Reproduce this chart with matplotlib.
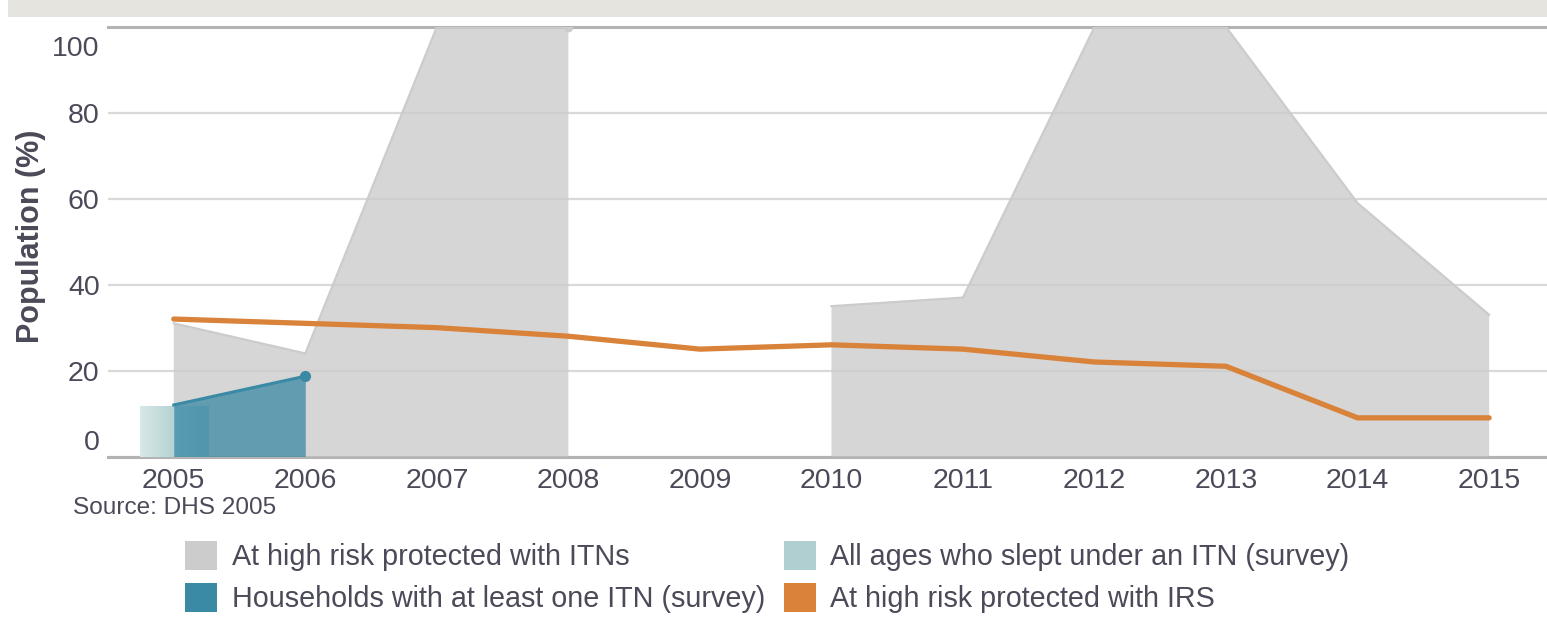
import matplotlib
matplotlib.use("Agg")
import matplotlib.pyplot as plt
import matplotlib.transforms as mtransforms
from matplotlib.colors import LinearSegmentedColormap
from matplotlib.patches import Patch, Rectangle
import numpy as np

# data
years = [2005, 2006, 2007, 2008, 2009, 2010, 2011, 2012, 2013, 2014, 2015]
itn_high_risk = [31, 24, 100, 100, np.nan, 35, 37, 100, 100, 59, 33]
irs_high_risk = [32, 31, 30, 28, 25, 26, 25, 22, 21, 9, 9]
survey_years = [2005, 2006]
households_itn = [12, 18.7]
all_ages_years = [2005]
all_ages_itn = [11.7]

y_ticks = [0, 20, 40, 60, 80, 100]
labels = ["At high risk protected with ITNs",
          "Households with at least one ITN (survey)",
          "All ages who slept under an ITN (survey)",
          "At high risk protected with IRS"]

text_col = "#4a4a58"
grey = "#cccccc"
teal = "#3a89a5"
light_teal = "#b0cfd0"
orange = "#d9823a"

plt.rcParams["font.family"] = ["Liberation Sans", "DejaVu Sans"]

W, H = 1547, 621
fig = plt.figure(figsize=(W / 100, H / 100), dpi=100)
ax = fig.add_axes([108 / W, 1 - 456.5 / H, 1 - 108 / W, (456.5 - 27) / H])

# title band (cut off at the top of the picture)
fig.add_artist(Rectangle((8 / W, 1 - 17 / H), 1, 17 / H, transform=fig.transFigure,
                         facecolor="#e5e4df", edgecolor="none"))

itn = np.array(itn_high_risk, dtype=float)
valid = ~np.isnan(itn)

# grey area: at high risk protected with ITNs
ax.fill_between(years, np.nan_to_num(itn), 0, where=valid, color=grey, alpha=0.8,
                linewidth=0, zorder=1)
ax.plot(years, itn, color=grey, lw=1.6, zorder=1.2)
ax.plot(years[3], itn[3], "o", color=grey, ms=6, zorder=1.2)

# light teal survey bar with a horizontal gradient
bar = ax.bar(all_ages_years, all_ages_itn, width=0.52, facecolor="none",
             edgecolor="none", zorder=2)[0]
x0, y0 = bar.get_xy()
grad = np.linspace(0, 1, 256).reshape(1, -1)
cmap = LinearSegmentedColormap.from_list("g", ["#d8e8e8", "#8fbcc0"])
im = ax.imshow(grad, extent=[x0, x0 + bar.get_width(), y0, y0 + bar.get_height()],
               aspect="auto", cmap=cmap, zorder=2)
im.set_clip_path(bar)

# households with at least one ITN
ax.fill_between(survey_years, households_itn, 0, color=teal, alpha=0.75,
                linewidth=0, zorder=3)
ax.plot(survey_years, households_itn, color=teal, lw=2.2, zorder=4)
ax.plot(survey_years[-1], households_itn[-1], "o", color=teal, ms=7, zorder=4)

# IRS line
ax.plot(years, irs_high_risk, color=orange, lw=3.8, solid_capstyle="round",
        solid_joinstyle="round", zorder=5)

ax.set_xlim(2004.5, 2015.44)
ax.set_ylim(0, 100)
ax.set_xticks(years)
ax.set_yticks(y_ticks)
ax.set_yticklabels([str(v) for v in y_ticks])
ax.grid(axis="y", color="#d9d9d9", lw=1.6, zorder=0.5)
ax.set_axisbelow(True)
ax.tick_params(axis="both", length=0, labelsize=20.5, labelcolor=text_col)
ax.tick_params(axis="y", pad=6)
ax.tick_params(axis="x", pad=8)

for side in ["left", "right"]:
    ax.spines[side].set_visible(False)
for side in ["top", "bottom"]:
    ax.spines[side].set_color("#b3b3b3")
    ax.spines[side].set_linewidth(2.2)
    ax.spines[side].set_zorder(0.6)

# first and last y labels sit inside the plot band
ylabels = ax.get_yticklabels()
ylabels[0].set_transform(ylabels[0].get_transform() +
                         mtransforms.ScaledTranslation(0, 0.16, fig.dpi_scale_trans))
ylabels[-1].set_transform(ylabels[-1].get_transform() +
                          mtransforms.ScaledTranslation(0, -0.195, fig.dpi_scale_trans))

ax.set_ylabel("Population (%)", fontsize=22, fontweight="bold", color=text_col)
ax.yaxis.set_label_coords(-0.043, 0.512)

fig.text(73 / W, 1 - 508 / H, "Source: DHS 2005", fontsize=17.6, color=text_col,
         va="center", ha="left")

handles = [Patch(facecolor=grey), Patch(facecolor=teal),
           Patch(facecolor=light_teal), Patch(facecolor=orange)]
fig.legend(handles, labels, ncol=2, loc="upper left",
           bbox_to_anchor=(185 / W, 1 - 541 / H), frameon=False,
           fontsize=20.7, labelcolor=text_col, handlelength=1.12, handleheight=1.15,
           handletextpad=0.5, columnspacing=0.65, labelspacing=0.43,
           borderpad=0, borderaxespad=0)

fig.savefig("out.png", dpi=100)
